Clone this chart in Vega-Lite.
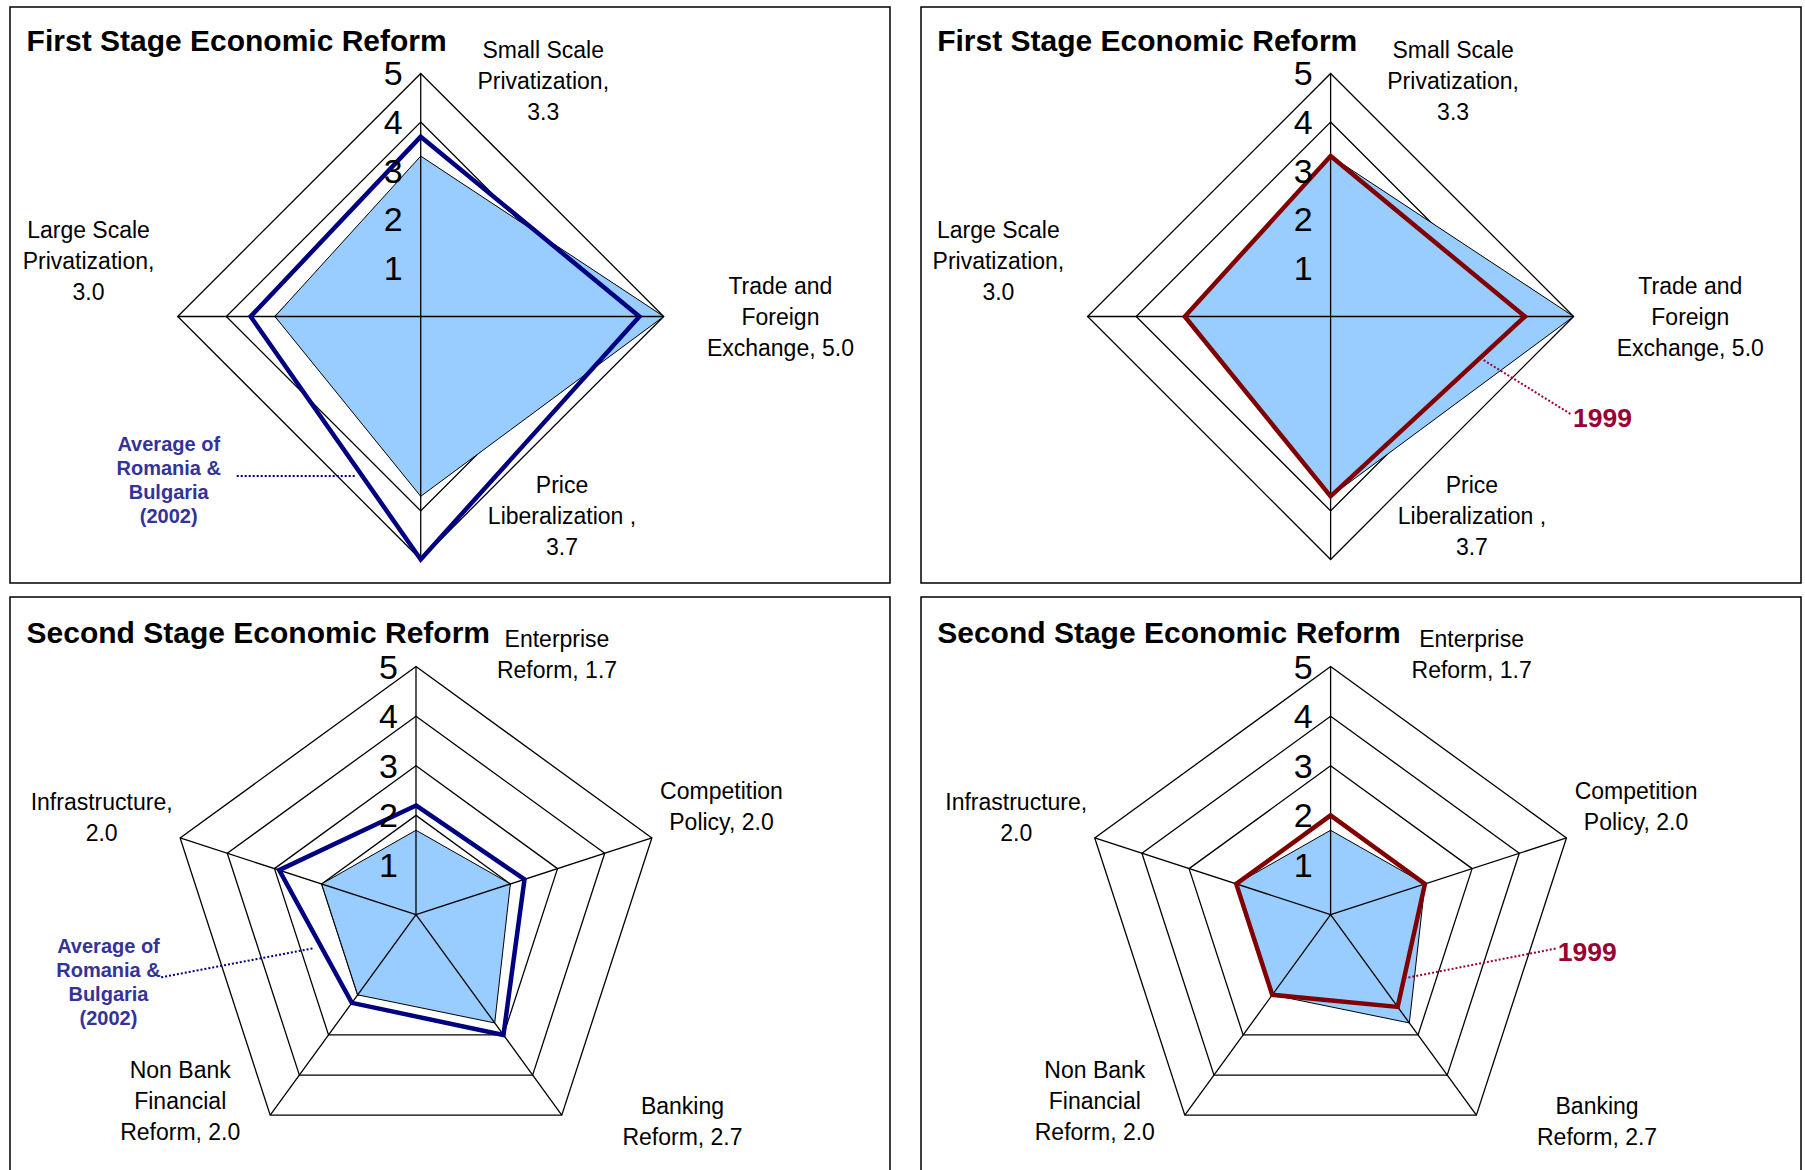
{
"$schema": "https://vega.github.io/schema/vega-lite/v6.json",
"padding": {"left": 9, "top": 6, "right": 0, "bottom": 0},
"background": "white",
"columns": 2,
"spacing": {"row": 14, "column": 31},
"bounds": "flush",
"config": {"view": {"stroke": "black", "strokeWidth": 1.5}, "text": {"font": "Liberation Sans"}},
"datasets": {
"axes1": [
{"k": 0, "axis": "Small Scale Privatization", "label": "Small Scale\nPrivatization,\n3.3", "grid": [1, 2, 3, 4, 5]},
{"k": 1, "axis": "Trade and Foreign Exchange", "label": "Trade and\nForeign\nExchange, 5.0", "grid": [1, 2, 3, 4, 5]},
{"k": 2, "axis": "Price Liberalization", "label": "Price\nLiberalization ,\n3.7", "grid": [1, 2, 3, 4, 5]},
{"k": 3, "axis": "Large Scale Privatization", "label": "Large Scale\nPrivatization,\n3.0", "grid": [1, 2, 3, 4, 5]}
],
"scores1": [
{"series": "Score", "k": 0, "score": 3.3},
{"series": "Score", "k": 1, "score": 5.0},
{"series": "Score", "k": 2, "score": 3.7},
{"series": "Score", "k": 3, "score": 3.0},
{"series": "Average of Romania & Bulgaria (2002)", "k": 0, "score": 3.7},
{"series": "Average of Romania & Bulgaria (2002)", "k": 1, "score": 4.5},
{"series": "Average of Romania & Bulgaria (2002)", "k": 2, "score": 5.0},
{"series": "Average of Romania & Bulgaria (2002)", "k": 3, "score": 3.5},
{"series": "1999", "k": 0, "score": 3.3},
{"series": "1999", "k": 1, "score": 4.0},
{"series": "1999", "k": 2, "score": 3.7},
{"series": "1999", "k": 3, "score": 3.0}
],
"axes2": [
{"k": 0, "axis": "Enterprise Reform", "label": "Enterprise\nReform, 1.7", "grid": [1, 2, 3, 4, 5]},
{"k": 1, "axis": "Competition Policy", "label": "Competition\nPolicy, 2.0", "grid": [1, 2, 3, 4, 5]},
{"k": 2, "axis": "Banking Reform", "label": "Banking\nReform, 2.7", "grid": [1, 2, 3, 4, 5]},
{"k": 3, "axis": "Non Bank Financial Reform", "label": "Non Bank\nFinancial\nReform, 2.0", "grid": [1, 2, 3, 4, 5]},
{"k": 4, "axis": "Infrastructure", "label": "Infrastructure,\n2.0", "grid": [1, 2, 3, 4, 5]}
],
"scores2": [
{"series": "Score", "k": 0, "score": 1.7},
{"series": "Score", "k": 1, "score": 2.0},
{"series": "Score", "k": 2, "score": 2.7},
{"series": "Score", "k": 3, "score": 2.0},
{"series": "Score", "k": 4, "score": 2.0},
{"series": "Average of Romania & Bulgaria (2002)", "k": 0, "score": 2.2},
{"series": "Average of Romania & Bulgaria (2002)", "k": 1, "score": 2.3},
{"series": "Average of Romania & Bulgaria (2002)", "k": 2, "score": 3.0},
{"series": "Average of Romania & Bulgaria (2002)", "k": 3, "score": 2.2},
{"series": "Average of Romania & Bulgaria (2002)", "k": 4, "score": 2.9},
{"series": "1999", "k": 0, "score": 2.0},
{"series": "1999", "k": 1, "score": 2.0},
{"series": "1999", "k": 2, "score": 2.3},
{"series": "1999", "k": 3, "score": 2.0},
{"series": "1999", "k": 4, "score": 2.0}
],
"titles": [
{"panel": "TL", "title": "First Stage Economic Reform"},
{"panel": "TR", "title": "First Stage Economic Reform"},
{"panel": "BL", "title": "Second Stage Economic Reform"},
{"panel": "BR", "title": "Second Stage Economic Reform"}
],
"notes": [
{"panel": "TL", "note": "Average of\nRomania &\nBulgaria\n(2002)"},
{"panel": "TR", "note": "1999"},
{"panel": "BL", "note": "Average of\nRomania &\nBulgaria\n(2002)"},
{"panel": "BR", "note": "1999"}
]
},
"concat": [
{
"width": 880, "height": 576,
"encoding": {
"x": {"field": "px", "type": "quantitative", "scale": {"domain": [-8.451, 9.656], "nice": false, "zero": false}, "axis": null},
"y": {"field": "py", "type": "quantitative", "scale": {"domain": [-5.484, 6.368], "nice": false, "zero": false}, "axis": null}
},
"layer": [
{"data": {"name": "axes1"}, "transform": [{"flatten": ["grid"]}, {"calculate": "datum.grid*sin(2*PI*datum.k/4)", "as": "px"}, {"calculate": "datum.grid*cos(2*PI*datum.k/4)", "as": "py"}],
 "mark": {"type": "line", "interpolate": "linear-closed", "stroke": "black", "strokeWidth": 1.3},
 "encoding": {"detail": {"field": "grid", "type": "nominal"}, "order": {"field": "k", "type": "quantitative"}}},
{"data": {"name": "scores1"}, "transform": [{"filter": "datum.series === 'Score'"}, {"calculate": "datum.score*sin(2*PI*datum.k/4)", "as": "px"}, {"calculate": "datum.score*cos(2*PI*datum.k/4)", "as": "py"}],
 "mark": {"type": "line", "interpolate": "linear-closed", "fill": "#99CCFF", "stroke": "black", "strokeWidth": 1},
 "encoding": {"order": {"field": "k", "type": "quantitative"}}},
{"data": {"name": "axes1"}, "transform": [{"flatten": ["grid"]}, {"filter": "datum.grid === 5"}, {"calculate": "datum.grid*sin(2*PI*datum.k/4)", "as": "px"}, {"calculate": "datum.grid*cos(2*PI*datum.k/4)", "as": "py"}],
 "mark": {"type": "rule", "stroke": "black", "strokeWidth": 1.3},
 "encoding": {"x": {"datum": 0, "type": "quantitative"}, "y": {"datum": 0, "type": "quantitative"}, "x2": {"field": "px"}, "y2": {"field": "py"}}},
{"data": {"name": "scores1"}, "transform": [{"filter": "datum.series === 'Average of Romania & Bulgaria (2002)'"}, {"calculate": "datum.score*sin(2*PI*datum.k/4)", "as": "px"}, {"calculate": "datum.score*cos(2*PI*datum.k/4)", "as": "py"}],
 "mark": {"type": "line", "interpolate": "linear-closed", "stroke": "#000080", "strokeWidth": 4.5},
 "encoding": {"order": {"field": "k", "type": "quantitative"}}},
{"data": {"name": "axes1"}, "transform": [{"filter": "datum.k === 0"}, {"flatten": ["grid"]}, {"calculate": "datum.grid*sin(2*PI*datum.k/4)", "as": "px"}, {"calculate": "datum.grid*cos(2*PI*datum.k/4)", "as": "py"}],
 "mark": {"type": "text", "fontSize": 34, "align": "right", "baseline": "middle", "dx": -18, "dy": 2},
 "encoding": {"text": {"field": "grid", "type": "quantitative"}}},
{"data": {"name": "axes1"}, "transform": [{"filter": "datum.k === 0"}, {"flatten": ["grid"]}, {"filter": "datum.grid === 5"}, {"calculate": "datum.grid*sin(2*PI*datum.k/4)", "as": "px"}, {"calculate": "datum.grid*cos(2*PI*datum.k/4)", "as": "py"}],
 "mark": {"type": "text", "fontSize": 23, "lineHeight": 31, "lineBreak": "\n", "align": "center", "baseline": "middle", "dx": 122.5, "dy": -22.8},
 "encoding": {"text": {"field": "label"}}},
{"data": {"name": "axes1"}, "transform": [{"filter": "datum.k === 1"}, {"flatten": ["grid"]}, {"filter": "datum.grid === 5"}, {"calculate": "datum.grid*sin(2*PI*datum.k/4)", "as": "px"}, {"calculate": "datum.grid*cos(2*PI*datum.k/4)", "as": "py"}],
 "mark": {"type": "text", "fontSize": 23, "lineHeight": 31, "lineBreak": "\n", "align": "center", "baseline": "middle", "dx": 116.7, "dy": -29.9},
 "encoding": {"text": {"field": "label"}}},
{"data": {"name": "axes1"}, "transform": [{"filter": "datum.k === 2"}, {"flatten": ["grid"]}, {"filter": "datum.grid === 5"}, {"calculate": "datum.grid*sin(2*PI*datum.k/4)", "as": "px"}, {"calculate": "datum.grid*cos(2*PI*datum.k/4)", "as": "py"}],
 "mark": {"type": "text", "fontSize": 23, "lineHeight": 31, "lineBreak": "\n", "align": "center", "baseline": "middle", "dx": 141.3, "dy": -73.9},
 "encoding": {"text": {"field": "label"}}},
{"data": {"name": "axes1"}, "transform": [{"filter": "datum.k === 3"}, {"flatten": ["grid"]}, {"filter": "datum.grid === 5"}, {"calculate": "datum.grid*sin(2*PI*datum.k/4)", "as": "px"}, {"calculate": "datum.grid*cos(2*PI*datum.k/4)", "as": "py"}],
 "mark": {"type": "text", "fontSize": 23, "lineHeight": 31, "lineBreak": "\n", "align": "center", "baseline": "middle", "dx": -89.2, "dy": -85},
 "encoding": {"text": {"field": "label"}}},
{"data": {"name": "titles"}, "transform": [{"filter": "datum.panel === 'TL'"}, {"calculate": "-8.109", "as": "px"}, {"calculate": "5.644", "as": "py"}],
 "mark": {"type": "text", "fontSize": 30, "fontWeight": "bold", "align": "left", "baseline": "middle"},
 "encoding": {"text": {"field": "title"}}},
{"data": {"name": "notes"}, "transform": [{"filter": "datum.panel === 'TL'"}, {"calculate": "-3.786", "as": "px"}, {"calculate": "-3.282", "as": "py"}, {"calculate": "-1.331", "as": "px2"}, {"calculate": "-3.282", "as": "py2"}],
 "mark": {"type": "rule", "stroke": "#000080", "strokeWidth": 2, "strokeDash": [2, 2]},
 "encoding": {"x2": {"field": "px2"}, "y2": {"field": "py2"}}},
{"data": {"name": "notes"}, "transform": [{"filter": "datum.panel === 'TL'"}, {"calculate": "-5.185", "as": "px"}, {"calculate": "-3.399", "as": "py"}],
 "mark": {"type": "text", "fontSize": 20, "fontWeight": "bold", "color": "#333399", "lineHeight": 24.2, "lineBreak": "\n", "align": "center", "baseline": "middle", "dy": -37},
 "encoding": {"text": {"field": "note"}}}
]
},
{
"width": 880, "height": 576,
"encoding": {
"x": {"field": "px", "type": "quantitative", "scale": {"domain": [-8.428, 9.679], "nice": false, "zero": false}, "axis": null},
"y": {"field": "py", "type": "quantitative", "scale": {"domain": [-5.484, 6.368], "nice": false, "zero": false}, "axis": null}
},
"layer": [
{"data": {"name": "axes1"}, "transform": [{"flatten": ["grid"]}, {"calculate": "datum.grid*sin(2*PI*datum.k/4)", "as": "px"}, {"calculate": "datum.grid*cos(2*PI*datum.k/4)", "as": "py"}],
 "mark": {"type": "line", "interpolate": "linear-closed", "stroke": "black", "strokeWidth": 1.3},
 "encoding": {"detail": {"field": "grid", "type": "nominal"}, "order": {"field": "k", "type": "quantitative"}}},
{"data": {"name": "scores1"}, "transform": [{"filter": "datum.series === 'Score'"}, {"calculate": "datum.score*sin(2*PI*datum.k/4)", "as": "px"}, {"calculate": "datum.score*cos(2*PI*datum.k/4)", "as": "py"}],
 "mark": {"type": "line", "interpolate": "linear-closed", "fill": "#99CCFF", "stroke": "black", "strokeWidth": 1},
 "encoding": {"order": {"field": "k", "type": "quantitative"}}},
{"data": {"name": "axes1"}, "transform": [{"flatten": ["grid"]}, {"filter": "datum.grid === 5"}, {"calculate": "datum.grid*sin(2*PI*datum.k/4)", "as": "px"}, {"calculate": "datum.grid*cos(2*PI*datum.k/4)", "as": "py"}],
 "mark": {"type": "rule", "stroke": "black", "strokeWidth": 1.3},
 "encoding": {"x": {"datum": 0, "type": "quantitative"}, "y": {"datum": 0, "type": "quantitative"}, "x2": {"field": "px"}, "y2": {"field": "py"}}},
{"data": {"name": "scores1"}, "transform": [{"filter": "datum.series === '1999'"}, {"calculate": "datum.score*sin(2*PI*datum.k/4)", "as": "px"}, {"calculate": "datum.score*cos(2*PI*datum.k/4)", "as": "py"}],
 "mark": {"type": "line", "interpolate": "linear-closed", "stroke": "#800000", "strokeWidth": 4.5},
 "encoding": {"order": {"field": "k", "type": "quantitative"}}},
{"data": {"name": "axes1"}, "transform": [{"filter": "datum.k === 0"}, {"flatten": ["grid"]}, {"calculate": "datum.grid*sin(2*PI*datum.k/4)", "as": "px"}, {"calculate": "datum.grid*cos(2*PI*datum.k/4)", "as": "py"}],
 "mark": {"type": "text", "fontSize": 34, "align": "right", "baseline": "middle", "dx": -18, "dy": 2},
 "encoding": {"text": {"field": "grid", "type": "quantitative"}}},
{"data": {"name": "axes1"}, "transform": [{"filter": "datum.k === 0"}, {"flatten": ["grid"]}, {"filter": "datum.grid === 5"}, {"calculate": "datum.grid*sin(2*PI*datum.k/4)", "as": "px"}, {"calculate": "datum.grid*cos(2*PI*datum.k/4)", "as": "py"}],
 "mark": {"type": "text", "fontSize": 23, "lineHeight": 31, "lineBreak": "\n", "align": "center", "baseline": "middle", "dx": 122.5, "dy": -22.8},
 "encoding": {"text": {"field": "label"}}},
{"data": {"name": "axes1"}, "transform": [{"filter": "datum.k === 1"}, {"flatten": ["grid"]}, {"filter": "datum.grid === 5"}, {"calculate": "datum.grid*sin(2*PI*datum.k/4)", "as": "px"}, {"calculate": "datum.grid*cos(2*PI*datum.k/4)", "as": "py"}],
 "mark": {"type": "text", "fontSize": 23, "lineHeight": 31, "lineBreak": "\n", "align": "center", "baseline": "middle", "dx": 116.7, "dy": -29.9},
 "encoding": {"text": {"field": "label"}}},
{"data": {"name": "axes1"}, "transform": [{"filter": "datum.k === 2"}, {"flatten": ["grid"]}, {"filter": "datum.grid === 5"}, {"calculate": "datum.grid*sin(2*PI*datum.k/4)", "as": "px"}, {"calculate": "datum.grid*cos(2*PI*datum.k/4)", "as": "py"}],
 "mark": {"type": "text", "fontSize": 23, "lineHeight": 31, "lineBreak": "\n", "align": "center", "baseline": "middle", "dx": 141.3, "dy": -73.9},
 "encoding": {"text": {"field": "label"}}},
{"data": {"name": "axes1"}, "transform": [{"filter": "datum.k === 3"}, {"flatten": ["grid"]}, {"filter": "datum.grid === 5"}, {"calculate": "datum.grid*sin(2*PI*datum.k/4)", "as": "px"}, {"calculate": "datum.grid*cos(2*PI*datum.k/4)", "as": "py"}],
 "mark": {"type": "text", "fontSize": 23, "lineHeight": 31, "lineBreak": "\n", "align": "center", "baseline": "middle", "dx": -89.2, "dy": -85},
 "encoding": {"text": {"field": "label"}}},
{"data": {"name": "titles"}, "transform": [{"filter": "datum.panel === 'TR'"}, {"calculate": "-8.095", "as": "px"}, {"calculate": "5.644", "as": "py"}],
 "mark": {"type": "text", "fontSize": 30, "fontWeight": "bold", "align": "left", "baseline": "middle"},
 "encoding": {"text": {"field": "title"}}},
{"data": {"name": "notes"}, "transform": [{"filter": "datum.panel === 'TR'"}, {"calculate": "3.150", "as": "px"}, {"calculate": "-0.899", "as": "py"}, {"calculate": "4.947", "as": "px2"}, {"calculate": "-2.012", "as": "py2"}],
 "mark": {"type": "rule", "stroke": "#990033", "strokeWidth": 2, "strokeDash": [2, 2]},
 "encoding": {"x2": {"field": "px2"}, "y2": {"field": "py2"}}},
{"data": {"name": "notes"}, "transform": [{"filter": "datum.panel === 'TR'"}, {"calculate": "4.988", "as": "px"}, {"calculate": "-2.119", "as": "py"}],
 "mark": {"type": "text", "fontSize": 26.5, "fontWeight": "bold", "color": "#990033", "align": "left", "baseline": "middle"},
 "encoding": {"text": {"field": "note"}}}
]
},
{
"width": 880, "height": 576,
"encoding": {
"x": {"field": "px", "type": "quantitative", "scale": {"domain": [-8.185, 9.556], "nice": false, "zero": false}, "axis": null},
"y": {"field": "py", "type": "quantitative", "scale": {"domain": [-5.210, 6.403], "nice": false, "zero": false}, "axis": null}
},
"layer": [
{"data": {"name": "axes2"}, "transform": [{"flatten": ["grid"]}, {"calculate": "datum.grid*sin(2*PI*datum.k/5)", "as": "px"}, {"calculate": "datum.grid*cos(2*PI*datum.k/5)", "as": "py"}],
 "mark": {"type": "line", "interpolate": "linear-closed", "stroke": "black", "strokeWidth": 1.3},
 "encoding": {"detail": {"field": "grid", "type": "nominal"}, "order": {"field": "k", "type": "quantitative"}}},
{"data": {"name": "scores2"}, "transform": [{"filter": "datum.series === 'Score'"}, {"calculate": "datum.score*sin(2*PI*datum.k/5)", "as": "px"}, {"calculate": "datum.score*cos(2*PI*datum.k/5)", "as": "py"}],
 "mark": {"type": "line", "interpolate": "linear-closed", "fill": "#99CCFF", "stroke": "black", "strokeWidth": 1},
 "encoding": {"order": {"field": "k", "type": "quantitative"}}},
{"data": {"name": "axes2"}, "transform": [{"flatten": ["grid"]}, {"filter": "datum.grid === 5"}, {"calculate": "datum.grid*sin(2*PI*datum.k/5)", "as": "px"}, {"calculate": "datum.grid*cos(2*PI*datum.k/5)", "as": "py"}],
 "mark": {"type": "rule", "stroke": "black", "strokeWidth": 1.3},
 "encoding": {"x": {"datum": 0, "type": "quantitative"}, "y": {"datum": 0, "type": "quantitative"}, "x2": {"field": "px"}, "y2": {"field": "py"}}},
{"data": {"name": "scores2"}, "transform": [{"filter": "datum.series === 'Average of Romania & Bulgaria (2002)'"}, {"calculate": "datum.score*sin(2*PI*datum.k/5)", "as": "px"}, {"calculate": "datum.score*cos(2*PI*datum.k/5)", "as": "py"}],
 "mark": {"type": "line", "interpolate": "linear-closed", "stroke": "#000080", "strokeWidth": 4.5},
 "encoding": {"order": {"field": "k", "type": "quantitative"}}},
{"data": {"name": "axes2"}, "transform": [{"filter": "datum.k === 0"}, {"flatten": ["grid"]}, {"calculate": "datum.grid*sin(2*PI*datum.k/5)", "as": "px"}, {"calculate": "datum.grid*cos(2*PI*datum.k/5)", "as": "py"}],
 "mark": {"type": "text", "fontSize": 34, "align": "right", "baseline": "middle", "dx": -18, "dy": 2},
 "encoding": {"text": {"field": "grid", "type": "quantitative"}}},
{"data": {"name": "axes2"}, "transform": [{"filter": "datum.k === 0"}, {"flatten": ["grid"]}, {"filter": "datum.grid === 5"}, {"calculate": "datum.grid*sin(2*PI*datum.k/5)", "as": "px"}, {"calculate": "datum.grid*cos(2*PI*datum.k/5)", "as": "py"}],
 "mark": {"type": "text", "fontSize": 23, "lineHeight": 31, "lineBreak": "\n", "align": "center", "baseline": "middle", "dx": 141, "dy": -26.3},
 "encoding": {"text": {"field": "label"}}},
{"data": {"name": "axes2"}, "transform": [{"filter": "datum.k === 1"}, {"flatten": ["grid"]}, {"filter": "datum.grid === 5"}, {"calculate": "datum.grid*sin(2*PI*datum.k/5)", "as": "px"}, {"calculate": "datum.grid*cos(2*PI*datum.k/5)", "as": "py"}],
 "mark": {"type": "text", "fontSize": 23, "lineHeight": 31, "lineBreak": "\n", "align": "center", "baseline": "middle", "dx": 69.6, "dy": -45.6},
 "encoding": {"text": {"field": "label"}}},
{"data": {"name": "axes2"}, "transform": [{"filter": "datum.k === 2"}, {"flatten": ["grid"]}, {"filter": "datum.grid === 5"}, {"calculate": "datum.grid*sin(2*PI*datum.k/5)", "as": "px"}, {"calculate": "datum.grid*cos(2*PI*datum.k/5)", "as": "py"}],
 "mark": {"type": "text", "fontSize": 23, "lineHeight": 31, "lineBreak": "\n", "align": "center", "baseline": "middle", "dx": 120.7, "dy": -8.6},
 "encoding": {"text": {"field": "label"}}},
{"data": {"name": "axes2"}, "transform": [{"filter": "datum.k === 3"}, {"flatten": ["grid"]}, {"filter": "datum.grid === 5"}, {"calculate": "datum.grid*sin(2*PI*datum.k/5)", "as": "px"}, {"calculate": "datum.grid*cos(2*PI*datum.k/5)", "as": "py"}],
 "mark": {"type": "text", "fontSize": 23, "lineHeight": 31, "lineBreak": "\n", "align": "center", "baseline": "middle", "dx": -90, "dy": -44.6},
 "encoding": {"text": {"field": "label"}}},
{"data": {"name": "axes2"}, "transform": [{"filter": "datum.k === 4"}, {"flatten": ["grid"]}, {"filter": "datum.grid === 5"}, {"calculate": "datum.grid*sin(2*PI*datum.k/5)", "as": "px"}, {"calculate": "datum.grid*cos(2*PI*datum.k/5)", "as": "py"}],
 "mark": {"type": "text", "fontSize": 23, "lineHeight": 31, "lineBreak": "\n", "align": "center", "baseline": "middle", "dx": -78.5, "dy": -34.6},
 "encoding": {"text": {"field": "label"}}},
{"data": {"name": "titles"}, "transform": [{"filter": "datum.panel === 'BL'"}, {"calculate": "-7.851", "as": "px"}, {"calculate": "5.657", "as": "py"}],
 "mark": {"type": "text", "fontSize": 30, "fontWeight": "bold", "align": "left", "baseline": "middle"},
 "encoding": {"text": {"field": "title"}}},
{"data": {"name": "notes"}, "transform": [{"filter": "datum.panel === 'BL'"}, {"calculate": "-5.137", "as": "px"}, {"calculate": "-1.264", "as": "py"}, {"calculate": "-2.071", "as": "px2"}, {"calculate": "-0.679", "as": "py2"}],
 "mark": {"type": "rule", "stroke": "#000080", "strokeWidth": 2, "strokeDash": [2, 2]},
 "encoding": {"x2": {"field": "px2"}, "y2": {"field": "py2"}}},
{"data": {"name": "notes"}, "transform": [{"filter": "datum.panel === 'BL'"}, {"calculate": "-6.200", "as": "px"}, {"calculate": "-1.393", "as": "py"}],
 "mark": {"type": "text", "fontSize": 20, "fontWeight": "bold", "color": "#333399", "lineHeight": 24.2, "lineBreak": "\n", "align": "center", "baseline": "middle", "dy": -37},
 "encoding": {"text": {"field": "note"}}}
]
},
{
"width": 880, "height": 576,
"encoding": {
"x": {"field": "px", "type": "quantitative", "scale": {"domain": [-8.258, 9.484], "nice": false, "zero": false}, "axis": null},
"y": {"field": "py", "type": "quantitative", "scale": {"domain": [-5.210, 6.403], "nice": false, "zero": false}, "axis": null}
},
"layer": [
{"data": {"name": "axes2"}, "transform": [{"flatten": ["grid"]}, {"calculate": "datum.grid*sin(2*PI*datum.k/5)", "as": "px"}, {"calculate": "datum.grid*cos(2*PI*datum.k/5)", "as": "py"}],
 "mark": {"type": "line", "interpolate": "linear-closed", "stroke": "black", "strokeWidth": 1.3},
 "encoding": {"detail": {"field": "grid", "type": "nominal"}, "order": {"field": "k", "type": "quantitative"}}},
{"data": {"name": "scores2"}, "transform": [{"filter": "datum.series === 'Score'"}, {"calculate": "datum.score*sin(2*PI*datum.k/5)", "as": "px"}, {"calculate": "datum.score*cos(2*PI*datum.k/5)", "as": "py"}],
 "mark": {"type": "line", "interpolate": "linear-closed", "fill": "#99CCFF", "stroke": "black", "strokeWidth": 1},
 "encoding": {"order": {"field": "k", "type": "quantitative"}}},
{"data": {"name": "axes2"}, "transform": [{"flatten": ["grid"]}, {"filter": "datum.grid === 5"}, {"calculate": "datum.grid*sin(2*PI*datum.k/5)", "as": "px"}, {"calculate": "datum.grid*cos(2*PI*datum.k/5)", "as": "py"}],
 "mark": {"type": "rule", "stroke": "black", "strokeWidth": 1.3},
 "encoding": {"x": {"datum": 0, "type": "quantitative"}, "y": {"datum": 0, "type": "quantitative"}, "x2": {"field": "px"}, "y2": {"field": "py"}}},
{"data": {"name": "scores2"}, "transform": [{"filter": "datum.series === '1999'"}, {"calculate": "datum.score*sin(2*PI*datum.k/5)", "as": "px"}, {"calculate": "datum.score*cos(2*PI*datum.k/5)", "as": "py"}],
 "mark": {"type": "line", "interpolate": "linear-closed", "stroke": "#800000", "strokeWidth": 4.5},
 "encoding": {"order": {"field": "k", "type": "quantitative"}}},
{"data": {"name": "axes2"}, "transform": [{"filter": "datum.k === 0"}, {"flatten": ["grid"]}, {"calculate": "datum.grid*sin(2*PI*datum.k/5)", "as": "px"}, {"calculate": "datum.grid*cos(2*PI*datum.k/5)", "as": "py"}],
 "mark": {"type": "text", "fontSize": 34, "align": "right", "baseline": "middle", "dx": -18, "dy": 2},
 "encoding": {"text": {"field": "grid", "type": "quantitative"}}},
{"data": {"name": "axes2"}, "transform": [{"filter": "datum.k === 0"}, {"flatten": ["grid"]}, {"filter": "datum.grid === 5"}, {"calculate": "datum.grid*sin(2*PI*datum.k/5)", "as": "px"}, {"calculate": "datum.grid*cos(2*PI*datum.k/5)", "as": "py"}],
 "mark": {"type": "text", "fontSize": 23, "lineHeight": 31, "lineBreak": "\n", "align": "center", "baseline": "middle", "dx": 141, "dy": -26.3},
 "encoding": {"text": {"field": "label"}}},
{"data": {"name": "axes2"}, "transform": [{"filter": "datum.k === 1"}, {"flatten": ["grid"]}, {"filter": "datum.grid === 5"}, {"calculate": "datum.grid*sin(2*PI*datum.k/5)", "as": "px"}, {"calculate": "datum.grid*cos(2*PI*datum.k/5)", "as": "py"}],
 "mark": {"type": "text", "fontSize": 23, "lineHeight": 31, "lineBreak": "\n", "align": "center", "baseline": "middle", "dx": 69.6, "dy": -45.6},
 "encoding": {"text": {"field": "label"}}},
{"data": {"name": "axes2"}, "transform": [{"filter": "datum.k === 2"}, {"flatten": ["grid"]}, {"filter": "datum.grid === 5"}, {"calculate": "datum.grid*sin(2*PI*datum.k/5)", "as": "px"}, {"calculate": "datum.grid*cos(2*PI*datum.k/5)", "as": "py"}],
 "mark": {"type": "text", "fontSize": 23, "lineHeight": 31, "lineBreak": "\n", "align": "center", "baseline": "middle", "dx": 120.7, "dy": -8.6},
 "encoding": {"text": {"field": "label"}}},
{"data": {"name": "axes2"}, "transform": [{"filter": "datum.k === 3"}, {"flatten": ["grid"]}, {"filter": "datum.grid === 5"}, {"calculate": "datum.grid*sin(2*PI*datum.k/5)", "as": "px"}, {"calculate": "datum.grid*cos(2*PI*datum.k/5)", "as": "py"}],
 "mark": {"type": "text", "fontSize": 23, "lineHeight": 31, "lineBreak": "\n", "align": "center", "baseline": "middle", "dx": -90, "dy": -44.6},
 "encoding": {"text": {"field": "label"}}},
{"data": {"name": "axes2"}, "transform": [{"filter": "datum.k === 4"}, {"flatten": ["grid"]}, {"filter": "datum.grid === 5"}, {"calculate": "datum.grid*sin(2*PI*datum.k/5)", "as": "px"}, {"calculate": "datum.grid*cos(2*PI*datum.k/5)", "as": "py"}],
 "mark": {"type": "text", "fontSize": 23, "lineHeight": 31, "lineBreak": "\n", "align": "center", "baseline": "middle", "dx": -78.5, "dy": -34.6},
 "encoding": {"text": {"field": "label"}}},
{"data": {"name": "titles"}, "transform": [{"filter": "datum.panel === 'BR'"}, {"calculate": "-7.931", "as": "px"}, {"calculate": "5.657", "as": "py"}],
 "mark": {"type": "text", "fontSize": 30, "fontWeight": "bold", "align": "left", "baseline": "middle"},
 "encoding": {"text": {"field": "title"}}},
{"data": {"name": "notes"}, "transform": [{"filter": "datum.panel === 'BR'"}, {"calculate": "1.490", "as": "px"}, {"calculate": "-1.284", "as": "py"}, {"calculate": "4.569", "as": "px2"}, {"calculate": "-0.679", "as": "py2"}],
 "mark": {"type": "rule", "stroke": "#990033", "strokeWidth": 2, "strokeDash": [2, 2]},
 "encoding": {"x2": {"field": "px2"}, "y2": {"field": "py2"}}},
{"data": {"name": "notes"}, "transform": [{"filter": "datum.panel === 'BR'"}, {"calculate": "4.579", "as": "px"}, {"calculate": "-0.766", "as": "py"}],
 "mark": {"type": "text", "fontSize": 26.5, "fontWeight": "bold", "color": "#990033", "align": "left", "baseline": "middle"},
 "encoding": {"text": {"field": "note"}}}
]
}
]
}
